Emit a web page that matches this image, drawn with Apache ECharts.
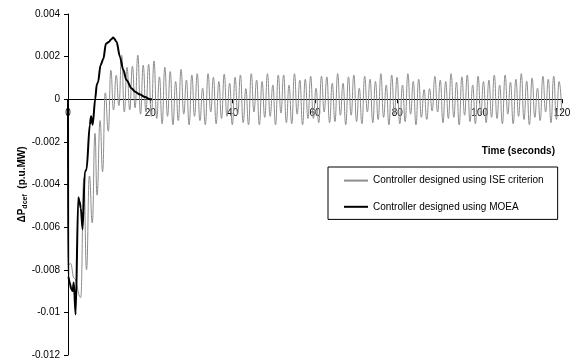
<!DOCTYPE html>
<html>
<head>
<meta charset="utf-8">
<script src="https://cdn.jsdelivr.net/npm/echarts@6/dist/echarts.min.js"></script>
<style>
  html, body { margin: 0; padding: 0; background: #fff; }
  #chart { width: 576px; height: 362px; }
</style>
</head>
<body>
<div id="chart"></div>
<script>
// MOEA controller response, [time (s), deltaP]
const moeaPoints = [
  [0, 0], [0.05, -0.0083], [0.4, -0.0086], [0.8, -0.0089], [1.1, -0.0090], [1.4, -0.0086],
  [1.85, -0.0101], [2.5, -0.0046], [2.8, -0.0048], [3.1, -0.0051], [3.55, -0.0061],
  [4.1, -0.0034], [4.5, -0.0033], [5.3, -0.0012], [5.6, -0.0008], [6.0, -0.0012],
  [6.6, 0.0000], [7.0, 0.0007], [7.3, 0.0008], [7.9, 0.0016], [8.6, 0.0019],
  [9.2, 0.0026], [10.0, 0.0027], [10.4, 0.0028], [11.0, 0.0029], [11.8, 0.0027],
  [12.6, 0.0020], [13.4, 0.0014], [14.2, 0.0009], [15.5, 0.0005], [16.3, 0.00035],
  [17.5, 0.00022], [18.7, 0.0001], [19.9, 0.0], [20.4, 0.0]
]

// ISE controller response: transient part, [time (s), deltaP]
const iseEarly = [
  [0, 0], [0.1, -0.0078], [0.6, -0.0077], [1.5, -0.0084], [3.1, -0.0093],
  [3.85, -0.0037], [4.5, -0.0080], [5.2, -0.0036], [5.9, -0.0058], [6.55, -0.0016],
  [7.05, -0.0045], [7.8, -0.0010], [8.4, -0.0034], [9.05, 0.0003], [9.8, -0.0015]
]

// ISE controller response: sustained oscillation, one peak and one trough per period
const iseStart = 10.4
const isePeriod = 1.312
const isePeaks = [
  0.00136, 0.00113, 0.00207, 0.0015, 0.00155, 0.00207, 0.0016, 0.00164, 0.0018, 0.00105,
  0.0015, 0.0013, 0.00083, 0.0014, 0.0009, 0.00114, 0.0012, 0.00052, 0.0012, 0.00103,
  0.00083, 0.00118, 0.00075, 0.00103, 0.00114, 0.0005, 0.0012, 0.0009, 0.00083, 0.0012,
  0.00067, 0.00114, 0.00114, 0.00067, 0.0012, 0.0009, 0.00094, 0.00108, 0.00052, 0.00108,
  0.00105, 0.00075, 0.0012, 0.00075, 0.00105, 0.00114, 0.00052, 0.00108, 0.00094, 0.00083,
  0.0012, 0.00067, 0.00114, 0.00103, 0.00067, 0.0012, 0.00083, 0.00094, 0.00045, 0.0005,
  0.00108, 0.0009, 0.00083, 0.0012, 0.0008, 0.00105, 0.00114, 0.00067, 0.00108, 0.00083,
  0.0009, 0.00114, 0.00067, 0.00114, 0.0008, 0.00094, 0.0012, 0.00085, 0.001, 0.00052,
  0.00108, 0.00094, 0.00108, 0.00083
]
const iseTroughs = [
  -0.0005, -0.0003, -0.0006, -0.0005, -0.0004, -0.0007, -0.0006, -0.0008, -0.0009,
  -0.00115, -0.0008, -0.0012, -0.001, -0.0007, -0.0012, -0.0008, -0.001, -0.0012, -0.0006,
  -0.00115, -0.0009, -0.0008, -0.0012, -0.0007, -0.0011, -0.0012, -0.0006, -0.0012, -0.00085,
  -0.0008, -0.0012, -0.00065, -0.0011, -0.00115, -0.0007, -0.0012, -0.0009, -0.0009, -0.0011,
  -0.0006, -0.0011, -0.00105, -0.00075, -0.0012, -0.00075, -0.00105, -0.00115, -0.0006, -0.0011,
  -0.00095, -0.00085, -0.0012, -0.0007, -0.00115, -0.00105, -0.0007, -0.0012, -0.00085, -0.00095,
  -0.00055, -0.0006, -0.0011, -0.0009, -0.00085, -0.0012, -0.00075, -0.00105, -0.00115, -0.0007,
  -0.0011, -0.00085, -0.0009, -0.00115, -0.0007, -0.00115, -0.0008, -0.00095, -0.0012, -0.00085,
  -0.001, -0.0006, -0.0011, -0.00095, -0.0006
]

const seriesNames = [
  'Controller designed using ISE criterion',
  'Controller designed using MOEA'
]

const iseData = iseEarly.slice()
isePeaks.forEach((p, k) => {
  const t = iseStart + k * isePeriod
  iseData.push([t, p])
  if (k < iseTroughs.length) iseData.push([t + isePeriod / 2, iseTroughs[k]])
})

const font = 'Liberation Sans, Arial, sans-serif'
const yMin = -0.012
const yMax = 0.004
const gridTop = 14
const gridBottom = 7
const plotHeight = 362 - gridTop - gridBottom
// move the x axis (line, ticks and labels) up to the y = 0 line
const xAxisOffset = -plotHeight * (0 - yMin) / (yMax - yMin)

const chart = echarts.init(document.getElementById('chart'))

chart.setOption({
  animation: false,
  textStyle: { fontFamily: font },
  grid: { left: 68, right: 14, top: gridTop, bottom: gridBottom, containLabel: false },
  legend: {
    orient: 'vertical',
    left: 328,
    top: 167,
    padding: [8, 14, 7, 15],
    itemWidth: 24,
    itemHeight: 14,
    itemGap: 15,
    borderColor: '#000',
    borderWidth: 1,
    itemStyle: { opacity: 0 },
    textStyle: { fontSize: 10, color: '#000', fontFamily: font },
    data: seriesNames
  },
  graphic: [
    {
      type: 'text',
      right: 21,
      top: 146,
      style: { text: 'Time (seconds)', font: 'bold 10px ' + font, fill: '#000' }
    }
  ],
  xAxis: {
    type: 'value',
    min: 0,
    max: 120,
    interval: 20,
    offset: xAxisOffset,
    axisLine: { onZero: false, lineStyle: { color: '#000', width: 1 } },
    axisTick: { show: true, length: 4, lineStyle: { color: '#000' } },
    axisLabel: { fontSize: 10, color: '#000', margin: 9 },
    splitLine: { show: false }
  },
  yAxis: {
    type: 'value',
    min: yMin,
    max: yMax,
    interval: 0.002,
    name: '{b|ΔP}{s|dcef}{b|  (p.u.MW)}',
    nameLocation: 'middle',
    nameRotate: 90,
    nameGap: 39,
    nameMoveOverlap: false,
    nameTextStyle: {
      rich: {
        b: { fontSize: 10, fontWeight: 'bold', color: '#000', lineHeight: 14, fontFamily: font },
        s: { fontSize: 7, fontWeight: 'bold', color: '#000', lineHeight: 14, verticalAlign: 'bottom', fontFamily: font }
      }
    },
    axisLine: { show: true, lineStyle: { color: '#000', width: 1 } },
    axisTick: { show: true, length: 4, lineStyle: { color: '#000' } },
    axisLabel: {
      fontSize: 10,
      color: '#000',
      margin: 8,
      formatter: (v) => String(+v.toFixed(3))
    },
    splitLine: { show: false }
  },
  series: [
    {
      name: seriesNames[0],
      type: 'line',
      data: iseData,
      symbol: 'none',
      smooth: 0.5,
      smoothMonotone: 'x',
      lineStyle: { color: '#8c8c8c', width: 1 },
      itemStyle: { color: '#8c8c8c' },
      z: 2
    },
    {
      name: seriesNames[1],
      type: 'line',
      data: moeaPoints,
      symbol: 'none',
      smooth: 0.3,
      smoothMonotone: 'x',
      lineStyle: { color: '#000', width: 2 },
      itemStyle: { color: '#000' },
      z: 3
    }
  ]
})
</script>
</body>
</html>
